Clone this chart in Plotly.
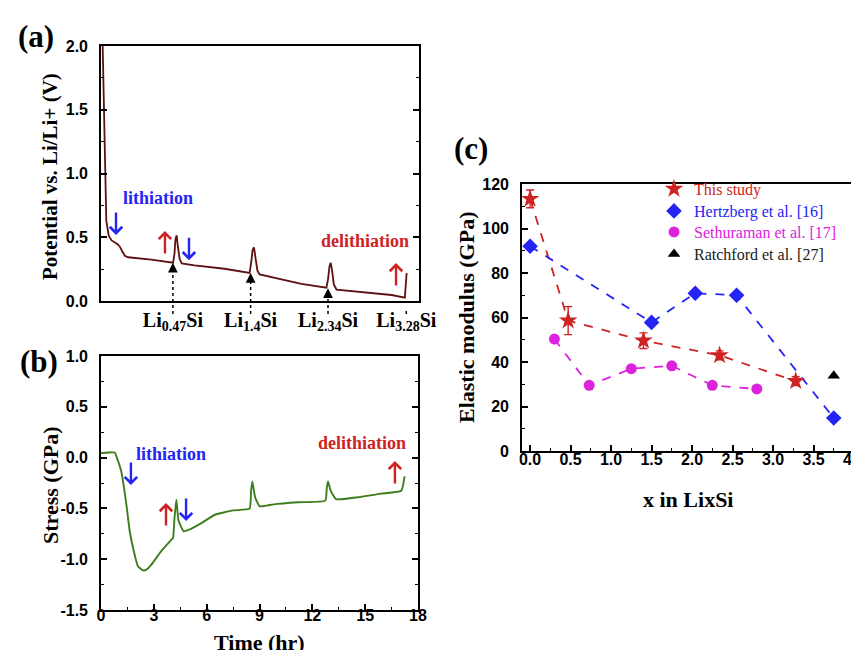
import plotly.graph_objects as go

# ---------------- data ----------------
# (a) potential vs time
time_a = [0.05, 0.15, 0.23, 0.30, 0.44, 0.6, 0.92, 1.05, 1.2, 1.35, 1.53, 1.89, 2.84, 4.08,
          4.16, 4.21, 4.28, 4.34, 4.45, 4.57, 5.29, 6.99, 8.41, 8.5, 8.58, 8.66, 8.74, 8.85, 8.98,
          9.83, 11.34, 12.76, 12.85, 12.93, 13.0, 13.08, 13.18, 13.33, 14.56, 16.45, 17.2, 17.3]
potential_a = [2.3, 1.51, 0.99, 0.63, 0.51, 0.475, 0.447, 0.43, 0.39, 0.355, 0.343, 0.338, 0.325, 0.30,
               0.37, 0.48, 0.515, 0.44, 0.33, 0.295, 0.28, 0.253, 0.22, 0.30, 0.40, 0.42, 0.33, 0.24, 0.208,
               0.183, 0.135, 0.104, 0.17, 0.27, 0.30, 0.24, 0.13, 0.09, 0.073, 0.047, 0.026, 0.22]
potential_ticks = [0.0, 0.5, 1.0, 1.5, 2.0]

li_times = [4.07, 8.47, 12.85, 17.28]
li_potentials = [0.30, 0.22, 0.10, -0.01]
li_labels = ["Li<sub>0.47</sub>Si", "Li<sub>1.4</sub>Si", "Li<sub>2.34</sub>Si", "Li<sub>3.28</sub>Si"]

# (b) stress vs time
time_b = [0.0, 0.4, 0.78, 0.9, 1.15, 1.44, 1.63, 1.91, 2.1, 2.38, 2.6, 2.86, 3.42, 3.99, 4.09, 4.18,
          4.28, 4.4, 4.69, 5.0, 5.7, 6.44, 7.5, 8.44, 8.52, 8.59, 8.75, 9.01, 9.8, 11.2, 12.74, 12.82,
          12.89, 13.05, 13.36, 14.6, 15.9, 17.05, 17.24]
stress_b = [0.045, 0.05, 0.05, 0.0, -0.135, -0.46, -0.725, -0.956, -1.07, -1.11, -1.10, -1.054, -0.92,
            -0.81, -0.79, -0.58, -0.414, -0.62, -0.726, -0.71, -0.645, -0.565, -0.52, -0.503, -0.33,
            -0.234, -0.39, -0.48, -0.46, -0.44, -0.424, -0.30, -0.234, -0.33, -0.41, -0.39, -0.355,
            -0.326, -0.184]
stress_ticks = [1.0, 0.5, 0.0, -0.5, -1.0, -1.5]
time_ticks = [0, 3, 6, 9, 12, 15, 18]

# (c) elastic modulus vs x in LixSi
study_x = [0.0, 0.47, 1.4, 2.34, 3.28]
study_e = [113.3, 58.6, 49.6, 43.0, 31.4]
study_err = [4.0, 6.3, 3.5, 2.0, 2.0]
hertz_x = [0.0, 1.5, 2.04, 2.55, 3.75]
hertz_e = [92.0, 57.8, 70.9, 70.0, 14.8]
seth_x = [0.3, 0.73, 1.25, 1.75, 2.25, 2.8]
seth_e = [50.3, 29.5, 37.0, 38.3, 29.5, 27.9]
ratch_x = [3.75]
ratch_e = [33.8]
x_ticks = [0.0, 0.5, 1.0, 1.5, 2.0, 2.5, 3.0, 3.5, 4.0]
modulus_ticks = [0, 20, 40, 60, 80, 100, 120]

series_names = ["This study", "Hertzberg et al. [16]", "Sethuraman et al. [17]", "Ratchford et al. [27]"]

RED = "#cf2323"
BLUE = "#2424f5"
MAG = "#dd22dd"
W, H = 859, 650

def px2paper_x(px):
    return px / W

def px2paper_y(py):
    return 1 - py / H

def btext(vals, fmt):
    return ["<b>" + (fmt % v) + "</b>" for v in vals]

fig = go.Figure()

fig.add_trace(go.Scatter(x=time_a, y=potential_a, mode="lines", line=dict(color="#5e1010", width=1.8),
                         xaxis="x", yaxis="y", showlegend=False, hoverinfo="skip"))
fig.add_trace(go.Scatter(x=time_b, y=stress_b, mode="lines",
                         line=dict(color="#3c7d1c", width=1.9, shape="spline", smoothing=0.4),
                         xaxis="x2", yaxis="y2", showlegend=False, hoverinfo="skip"))

# (c) dashed lines
for xs, ys, col in [(study_x, study_e, RED), (hertz_x, hertz_e, BLUE), (seth_x, seth_e, MAG)]:
    fig.add_trace(go.Scatter(x=xs, y=ys, mode="lines", line=dict(color=col, width=1.8, dash="dash"),
                             xaxis="x3", yaxis="y3", showlegend=False, hoverinfo="skip"))

fig.add_trace(go.Scatter(x=study_x, y=study_e, mode="markers", xaxis="x3", yaxis="y3",
                         marker=dict(symbol="star", size=14, color=RED),
                         error_y=dict(type="data", array=study_err, color=RED, thickness=1.4, width=4),
                         name=series_names[0], legend="legend"))
fig.add_trace(go.Scatter(x=hertz_x, y=hertz_e, mode="markers", xaxis="x3", yaxis="y3",
                         marker=dict(symbol="diamond", size=12, color=BLUE),
                         name=series_names[1], legend="legend2"))
fig.add_trace(go.Scatter(x=seth_x, y=seth_e, mode="markers", xaxis="x3", yaxis="y3",
                         marker=dict(symbol="circle", size=11, color=MAG),
                         name=series_names[2], legend="legend3"))
fig.add_trace(go.Scatter(x=ratch_x, y=ratch_e, mode="markers", xaxis="x3", yaxis="y3",
                         marker=dict(symbol="triangle-up", size=11, color="black"),
                         name=series_names[3], legend="legend4"))

TICKFONT = dict(family="Liberation Sans, Arial, sans-serif", size=16, color="black", weight=700)
base = dict(showline=True, linecolor="black", linewidth=1.6, showgrid=False, zeroline=False,
            ticks="inside", ticklen=6, tickwidth=1.5, tickcolor="black", tickfont=TICKFONT)

def minor(d):
    return dict(dtick=d, ticks="inside", ticklen=3, tickwidth=1.3, tickcolor="black", showgrid=False)

a_range_x = [0, 18]
a_range_y = [0, 2]

def leg(row_y, col):
    return dict(x=px2paper_x(646), y=px2paper_y(row_y), xanchor="left", yanchor="middle",
                bgcolor="rgba(0,0,0,0)",
                font=dict(family="Liberation Serif, Times New Roman, serif", size=16, color=col))

fig.update_layout(
    width=W, height=H, margin=dict(l=0, r=0, t=0, b=0),
    paper_bgcolor="white", plot_bgcolor="white", template="none",
    xaxis=dict(base, domain=[px2paper_x(93), px2paper_x(411)], anchor="y", range=a_range_x,
               ticks="", tickvals=li_times, ticktext=["<b>%s</b>" % s for s in li_labels], mirror=True,
               tickfont=dict(family="Liberation Serif", size=20, color="black", weight=700),
               ticklabelstandoff=0),
    yaxis=dict(base, domain=[px2paper_y(293), px2paper_y(38)], anchor="x", range=a_range_y,
               tickvals=potential_ticks, ticktext=btext(potential_ticks, "%.1f"),
               minor=minor(0.25), mirror="ticks", ticklabelstandoff=8),
    xaxis2=dict(base, domain=[px2paper_x(93), px2paper_x(410)], anchor="y2", range=[0, 18],
                tickvals=time_ticks, ticktext=btext(time_ticks, "%d"),
                minor=minor(1.5), mirror=True, ticklabelstandoff=-10),
    yaxis2=dict(base, domain=[px2paper_y(602), px2paper_y(348)], anchor="x2", range=[-1.5, 1.0],
                tickvals=stress_ticks, ticktext=btext(stress_ticks, "%.1f"),
                minor=minor(0.25), mirror="ticks", ticklabelstandoff=8),
    xaxis3=dict(base, domain=[px2paper_x(514), px2paper_x(846)], anchor="y3", range=[-0.1, 4.0],
                tickvals=x_ticks, ticktext=btext(x_ticks, "%.1f"),
                minor=minor(0.25), mirror=True, ticklabelstandoff=-7),
    yaxis3=dict(base, domain=[px2paper_y(443), px2paper_y(176)], anchor="x3", range=[0, 120],
                tickvals=modulus_ticks, ticktext=btext(modulus_ticks, "%d"),
                minor=minor(10), mirror=True, ticklabelstandoff=8),
    legend=leg(181, RED),
    legend2=leg(203, BLUE),
    legend3=leg(224, MAG),
    legend4=leg(246, "#222222"),
    showlegend=True,
)

ann = []
SERIF = "Liberation Serif"

def title(text, x, y, size=21, angle=0):
    ann.append(dict(text="<b>%s</b>" % text, x=px2paper_x(x), y=px2paper_y(y), xref="paper", yref="paper",
                    showarrow=False, textangle=angle, xanchor="center", yanchor="middle",
                    font=dict(family=SERIF, size=size, color="black")))

title("Potential vs. Li/Li+ (V)", 42, 169, 21, -90)
title("Stress (GPa)", 42, 477, 22, -90)
title("Time (hr)", 252, 634, 22)
title("Elastic modulus (GPa)", 458, 310, 22, -90)
title("x in LixSi", 680, 491, 22)
title("(a)", 28, 28, 31)
title("(b)", 31, 353, 31)
title("(c)", 463, 141, 31)

def label(text, x, y, col, xa, ya):
    ann.append(dict(text="<b>%s</b>" % text, x=x, y=y, xref=xa, yref=ya, showarrow=False,
                    xanchor="center", yanchor="middle", font=dict(family=SERIF, size=18, color=col)))

def arrow(x, y, up, col, xa, ya):
    ann.append(dict(text="", x=x, y=y, xref=xa, yref=ya, ax=0, ay=(24 if up else -24),
                    showarrow=True, arrowhead=4, arrowsize=1, arrowwidth=2.4, arrowcolor=col))

# panel a annotations
label("lithiation", 3.23, 0.808, BLUE, "x", "y")
label("delithiation", 14.94, 0.47, RED, "x", "y")
arrow(0.85, 0.518, False, BLUE, "x", "y")
arrow(3.62, 0.549, True, RED, "x", "y")
arrow(4.98, 0.32, False, BLUE, "x", "y")
arrow(16.70, 0.298, True, RED, "x", "y")

# panel b annotations
label("lithiation", 3.97, 0.035, BLUE, "x2", "y2")
label("delithiation", 14.82, 0.144, RED, "x2", "y2")
arrow(1.70, -0.27, False, BLUE, "x2", "y2")
arrow(3.69, -0.447, True, RED, "x2", "y2")
arrow(4.83, -0.624, False, BLUE, "x2", "y2")
arrow(16.69, -0.033, True, RED, "x2", "y2")

# dotted arrows marking compositions in panel a
shapes = []
a_height_px = 293 - 38
for t, v in zip(li_times, li_potentials):
    ann.append(dict(text="", x=t, y=v, xref="x", yref="y", ax=0, ay=10, showarrow=True,
                    arrowhead=2, arrowsize=1.5, arrowwidth=1.3, arrowcolor="black"))
    xf = (t - a_range_x[0]) / (a_range_x[1] - a_range_x[0])
    yf = (v - a_range_y[0]) / (a_range_y[1] - a_range_y[0])
    shapes.append(dict(type="line", xref="x domain", yref="y domain", x0=xf, x1=xf,
                       y0=-13 / a_height_px, y1=yf - 8 / a_height_px,
                       line=dict(color="black", width=1.5, dash="dot")))

fig.update_layout(annotations=ann, shapes=shapes)

fig.write_html("out.html", config={"displayModeBar": False})
